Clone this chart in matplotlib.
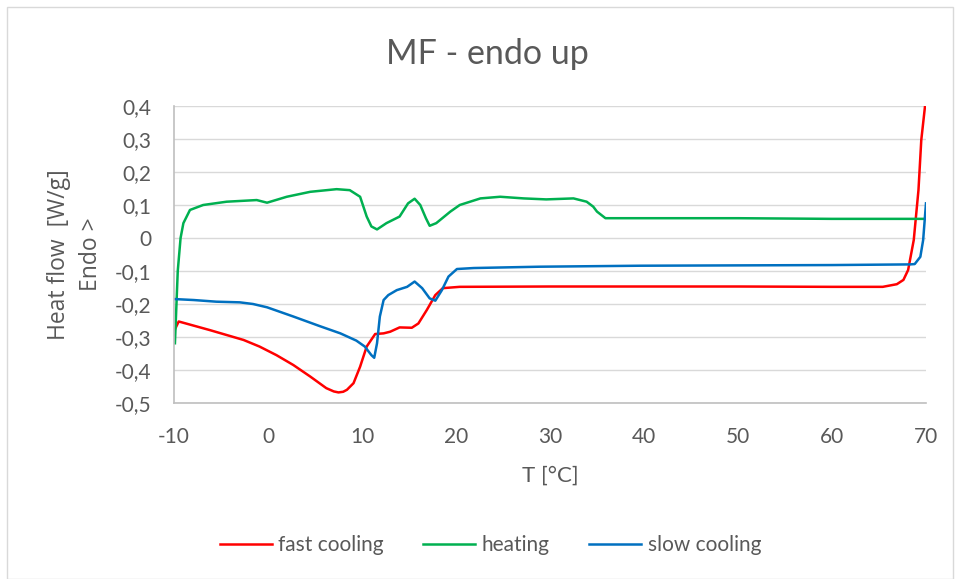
import numpy as np
import matplotlib.pyplot as plt
from matplotlib.patches import Rectangle


colors = {
    "red": "#ff0000",
    "green": "#00b050",
    "blue": "#0070c0",
    "grid": "#d9d9d9",
    "text": "#595959",
}

# DSC traces, temperature [°C] vs heat flow [W/g]
heating_t = [-9.9, -9.6, -9.3, -9.0, -8.3, -6.9, -4.4, -1.2, -0.1, 2.0, 4.5, 7.3, 8.7, 9.8,
             10.5, 11.0, 11.6, 12.6, 14.0, 14.9, 15.6, 16.2, 16.8, 17.2, 17.9, 19.4, 20.4,
             22.6, 24.7, 27.2, 29.6, 32.5, 33.9, 34.6, 35.0, 35.9, 40.0, 50.0, 60.0, 69.7]
heating_q = [-0.319, -0.10, 0.00, 0.045, 0.085, 0.100, 0.110, 0.115, 0.107, 0.125, 0.140,
             0.148, 0.145, 0.125, 0.065, 0.035, 0.026, 0.045, 0.065, 0.105, 0.119, 0.100,
             0.060, 0.037, 0.045, 0.080, 0.100, 0.120, 0.125, 0.120, 0.117, 0.120, 0.110,
             0.095, 0.080, 0.060, 0.060, 0.060, 0.058, 0.058]

fast_t = [-9.9, -9.5, -6.2, -2.6, -0.9, 0.9, 2.7, 4.5, 6.2, 7.0, 7.5, 8.0, 8.4, 9.1, 9.8,
          10.5, 11.4, 12.3, 13.0, 14.0, 15.3, 16.0, 16.9, 17.8, 18.6, 20.4, 30.0, 40.0, 50.0,
          60.0, 65.4, 66.9, 67.6, 68.1, 68.7, 69.2, 69.5, 69.9]
fast_q = [-0.277, -0.253, -0.279, -0.309, -0.329, -0.355, -0.385, -0.420, -0.455, -0.465,
          -0.468, -0.466, -0.460, -0.440, -0.390, -0.329, -0.291, -0.289, -0.284, -0.271,
          -0.272, -0.259, -0.218, -0.173, -0.152, -0.148, -0.147, -0.147, -0.147, -0.148,
          -0.148, -0.140, -0.127, -0.097, -0.006, 0.145, 0.297, 0.400]

slow_t = [-10.0, -7.9, -5.5, -3.0, -1.6, -0.1, 2.7, 5.5, 7.7, 9.4, 10.3, 11.0, 11.3, 11.6,
          11.9, 12.3, 12.8, 13.7, 14.8, 15.6, 16.4, 17.2, 17.8, 18.5, 19.2, 20.1, 21.9,
          28.9, 39.6, 50.0, 60.0, 68.3, 68.8, 69.4, 69.7, 70.0]
slow_q = [-0.185, -0.188, -0.193, -0.195, -0.200, -0.210, -0.238, -0.267, -0.289, -0.311,
          -0.329, -0.355, -0.363, -0.319, -0.238, -0.188, -0.173, -0.158, -0.148, -0.132,
          -0.152, -0.183, -0.190, -0.158, -0.117, -0.094, -0.091, -0.087, -0.084, -0.083,
          -0.082, -0.080, -0.079, -0.057, -0.006, 0.105]

x_ticks = [-10, 0, 10, 20, 30, 40, 50, 60, 70]
y_ticks = [-0.5, -0.4, -0.3, -0.2, -0.1, 0, 0.1, 0.2, 0.3, 0.4]
y_tick_labels = ["-0,5", "-0,4", "-0,3", "-0,2", "-0,1", "0", "0,1", "0,2", "0,3", "0,4"]

plt.rcParams["font.family"] = ["Lato", "DejaVu Sans"]
plt.rcParams["axes.unicode_minus"] = False

fig = plt.figure(figsize=(9.56, 5.79), dpi=100)
fig.patches.append(Rectangle((0.007, 0.0), 0.99, 0.988, transform=fig.transFigure,
                             fill=False, edgecolor="#d9d9d9", linewidth=1.0))
ax = fig.add_axes([0.182, 0.304, 0.7866, 0.5129])

ax.plot(fast_t, fast_q, color=colors["red"], linewidth=1.8, label="fast cooling")
ax.plot(heating_t, heating_q, color=colors["green"], linewidth=1.8, label="heating")
ax.plot(slow_t, slow_q, color=colors["blue"], linewidth=1.8, label="slow cooling")

ax.set_xlim(-10, 70)
ax.set_ylim(-0.5, 0.4)
ax.set_xticks(x_ticks)
ax.set_yticks(y_ticks)
ax.set_yticklabels(y_tick_labels)
ax.tick_params(length=0, labelsize=15, colors=colors["text"])
ax.tick_params(axis="y", pad=16)
ax.tick_params(axis="x", pad=17)
ax.grid(axis="y", color=colors["grid"], linewidth=1.0)
ax.set_axisbelow(True)
for side in ["top", "right"]:
    ax.spines[side].set_visible(False)
for side in ["left", "bottom"]:
    ax.spines[side].set_color("#bfbfbf")
    ax.spines[side].set_linewidth(1.2)

fig.suptitle("MF - endo up", x=0.51, y=0.935, fontsize=24.5, color=colors["text"])
ax.set_xlabel("T [°C]", fontsize=16, color=colors["text"], labelpad=14)
ax.set_ylabel("Heat flow  [W/g]\nEndo >", fontsize=16.5, color=colors["text"],
              family="Open Sans", labelpad=9, linespacing=1.4)

fig.legend(loc="center", bbox_to_anchor=(0.513, 0.058), ncol=3, frameon=False,
           fontsize=15, labelcolor=colors["text"], handlelength=2.5, columnspacing=1.9,
           handletextpad=0.3)

fig.savefig("out.png", dpi=100)
